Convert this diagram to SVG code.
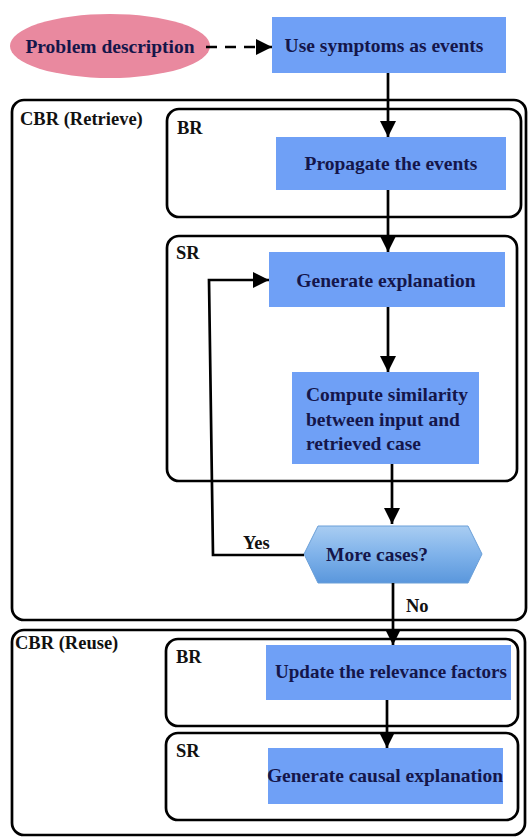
<svg xmlns="http://www.w3.org/2000/svg" width="530" height="837" viewBox="0 0 530 837" font-family="Liberation Serif, DejaVu Serif, serif">
<style>
.cont{fill:none;stroke:#000;stroke-width:2.7}
.box{fill:#6fa0f6}
text{font-family:"Liberation Serif","DejaVu Serif",serif}
.t{font-weight:bold;font-size:19.5px;fill:#15164a}
.lbl{font-weight:bold;font-size:18.5px;fill:#111}
.ln{fill:none;stroke:#000;stroke-width:2.7}
</style>
<defs>
<marker id="ah" markerWidth="16" markerHeight="16" refX="16" refY="8" orient="auto" markerUnits="userSpaceOnUse" viewBox="0 0 16 16">
<path d="M0,0 L16,8 L0,16 Z" fill="#000"/>
</marker>
<linearGradient id="hg" x1="0" y1="0" x2="0" y2="1">
<stop offset="0" stop-color="#a9cdf2"/>
<stop offset="0.5" stop-color="#7fb2ea"/>
<stop offset="1" stop-color="#5a97dc"/>
</linearGradient>
</defs>

<g id="cbr-retrieve">
<rect class="cont" x="12" y="100" width="514" height="520" rx="12"/>
<text class="lbl" x="20" y="125">CBR (Retrieve)</text>
</g>
<g id="br-retrieve">
<rect class="cont" x="167" y="109" width="354" height="108" rx="12"/>
<text class="lbl" x="177" y="134">BR</text>
</g>
<g id="sr-retrieve">
<rect class="cont" x="167" y="236" width="350" height="245" rx="12"/>
<text class="lbl" x="176" y="259">SR</text>
</g>
<g id="cbr-reuse">
<rect class="cont" x="12" y="630" width="513" height="205" rx="12"/>
<text class="lbl" x="15" y="649">CBR (Reuse)</text>
</g>
<g id="br-reuse">
<rect class="cont" x="166" y="639" width="352" height="87" rx="12"/>
<text class="lbl" x="176" y="663">BR</text>
</g>
<g id="sr-reuse">
<rect class="cont" x="166" y="733" width="352" height="87" rx="12"/>
<text class="lbl" x="176" y="757">SR</text>
</g>

<g id="problem">
<ellipse cx="110" cy="46" rx="100" ry="32" fill="#e9899f"/>
<text class="t" x="110" y="53" text-anchor="middle" fill="#3a0a1a">Problem description</text>
</g>
<g id="use-symptoms">
<rect class="box" x="272" y="17" width="234" height="56"/>
<text class="t" x="384" y="52" text-anchor="middle">Use symptoms as events</text>
</g>
<g id="propagate">
<rect class="box" x="276" y="137" width="230" height="53"/>
<text class="t" x="391" y="170" text-anchor="middle">Propagate the events</text>
</g>
<g id="gen-expl">
<rect class="box" x="269" y="252" width="236" height="55"/>
<text class="t" x="386" y="287" text-anchor="middle">Generate explanation</text>
</g>
<g id="compute">
<rect class="box" x="292" y="372" width="187" height="92"/>
<text class="t" x="306" y="401">Compute similarity</text>
<text class="t" x="306" y="426">between input and</text>
<text class="t" x="306" y="450">retrieved case</text>
</g>
<g id="more-cases">
<polygon points="304,554 318,526 468,526 482,554 468,583 318,583" fill="url(#hg)" stroke="#6a9fd8" stroke-width="1"/>
<text class="t" x="377" y="561" text-anchor="middle">More cases?</text>
</g>
<g id="update">
<rect class="box" x="266" y="645" width="245" height="55"/>
<text class="t" x="391" y="678" text-anchor="middle" textLength="232" lengthAdjust="spacingAndGlyphs">Update the relevance factors</text>
</g>
<g id="gen-causal">
<rect class="box" x="268" y="748" width="235" height="56"/>
<text class="t" x="385" y="782" text-anchor="middle">Generate causal explanation</text>
</g>

<g id="connectors">
<line class="ln" x1="206" y1="47" x2="272" y2="47" stroke-dasharray="11,8" marker-end="url(#ah)"/>
<line class="ln" x1="388" y1="73" x2="388" y2="137" marker-end="url(#ah)"/>
<line class="ln" x1="388" y1="190" x2="388" y2="252" marker-end="url(#ah)"/>
<line class="ln" x1="388" y1="307" x2="388" y2="372" marker-end="url(#ah)"/>
<line class="ln" x1="392" y1="464" x2="392" y2="524" marker-end="url(#ah)"/>
<polyline class="ln" points="304,555 213,555 209,280 269,280" marker-end="url(#ah)"/>
<line class="ln" x1="393" y1="583" x2="393" y2="645" marker-end="url(#ah)"/>
<line class="ln" x1="387" y1="700" x2="387" y2="748" marker-end="url(#ah)"/>
<text class="lbl" x="243" y="549">Yes</text>
<text class="lbl" x="406" y="612">No</text>
</g>
</svg>
